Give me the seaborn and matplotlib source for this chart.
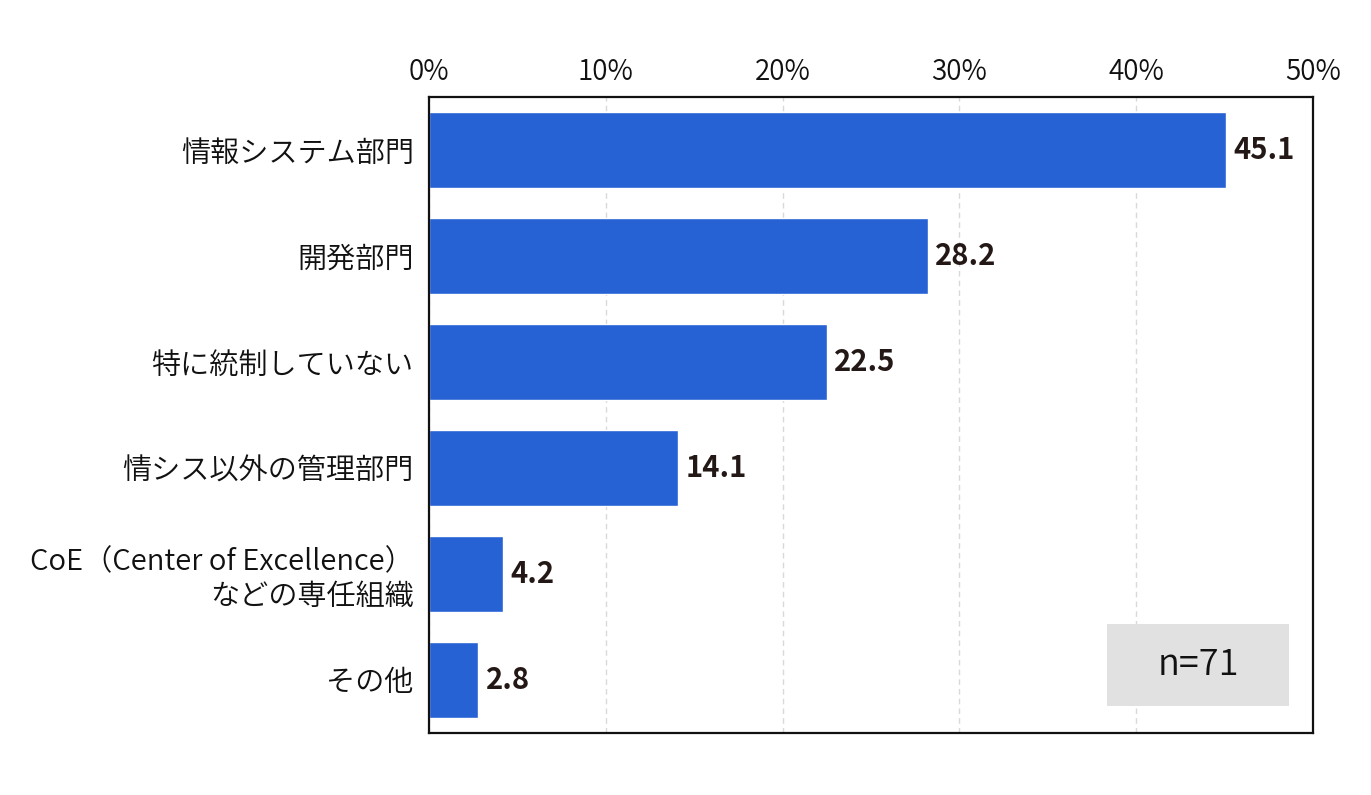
import matplotlib
matplotlib.use("Agg")
import matplotlib.pyplot as plt
import seaborn as sns
import pandas as pd
from matplotlib.patches import Rectangle

categories = ["情報システム部門", "開発部門", "特に統制していない", "情シス以外の管理部門",
              "CoE（Center of Excellence）\nなどの専任組織", "その他"]
values = [45.1, 28.2, 22.5, 14.1, 4.2, 2.8]
x_ticks = [0, 10, 20, 30, 40, 50]
x_tick_labels = ["0%", "10%", "20%", "30%", "40%", "50%"]
note = "n=71"

sns.set_theme(style="white")
plt.rcParams['font.family'] = ['Noto Sans CJK JP', 'DejaVu Sans']

df = pd.DataFrame({"cat": categories, "val": values})

fig = plt.figure(figsize=(13.71, 7.95), dpi=100)
ax = fig.add_axes([0.3129, 0.078, 0.6448, 0.800])

sns.barplot(data=df, y="cat", x="val", orient="h", color="#2662D4",
            saturation=1, width=0.72, ax=ax)

ax.set_xlim(0, 50)
ax.set_ylim(5.5, -0.5)
ax.set_xticks(x_ticks)
ax.set_xticklabels(x_tick_labels)
ax.xaxis.tick_top()
ax.tick_params(axis='x', length=0, pad=7, labelsize=20, colors="#111111")
ax.tick_params(axis='y', length=0, pad=11, labelsize=21, colors="#111111")
ax.set_xlabel("")
ax.set_ylabel("")
for lab in ax.get_yticklabels() + ax.get_xticklabels():
    lab.set_fontweight(350)
for lab in ax.get_yticklabels():
    lab.set_horizontalalignment("right")

ax.grid(axis='x', color="#d9d9d9", linestyle=(0, (4, 3)), linewidth=1)
ax.set_axisbelow(True)
for s in ax.spines.values():
    s.set_visible(True)
    s.set_color("#111111")
    s.set_linewidth(1.6)

for i, v in enumerate(values):
    ax.text(v + 0.4, i, f"{v:.1f}", va="center", ha="left", fontsize=21,
            fontweight="bold", color="#231815")

ax.add_patch(Rectangle((0.767, 0.0425), 0.206, 0.129, transform=ax.transAxes,
                       facecolor="#E1E1E1", edgecolor="none", zorder=3))
ax.text(0.767 + 0.103, 0.0425 + 0.0645, note, transform=ax.transAxes,
        ha="center", va="center", fontsize=26, fontweight=350,
        color="#111111", zorder=4)

fig.savefig("out.png", dpi=100)
